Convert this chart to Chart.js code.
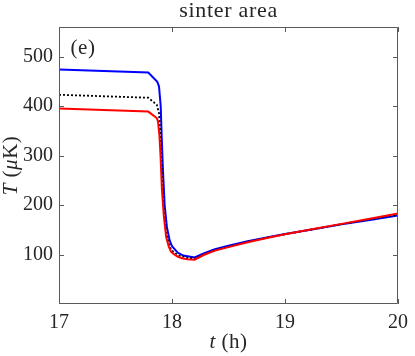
<!DOCTYPE html>
<html>
<head>
<meta charset="utf-8">
<script src="https://cdn.jsdelivr.net/npm/chart.js@4"></script>
<style>
  html, body { margin: 0; padding: 0; background: #fff; }
  #wrap { width: 415px; height: 356px; }
</style>
</head>
<body>
<div id="wrap"><canvas id="chart" width="415" height="356"></canvas></div>
<script>
// values (t in hours, T in microkelvin)
const tBlue = [17.0, 17.79, 17.87, 17.885, 17.9, 17.91, 17.92, 17.935, 17.955, 17.98, 18.0, 18.05, 18.1, 18.2, 18.28, 18.38, 18.5, 18.67, 18.85, 19.0, 19.25, 19.5, 19.75, 20.0];
const TBlue = [474, 468, 449, 440, 400, 330, 270, 200, 155, 128, 117, 104, 98, 94, 102, 111, 118, 127, 135, 141.5, 151, 161, 170, 179];

const tBlack = [17.0, 17.79, 17.865, 17.885, 17.9, 17.915, 17.93, 17.95, 17.99, 18.05, 18.14, 18.2, 18.28, 18.38, 18.5, 18.67, 18.85, 19.0, 19.25, 19.5, 19.75, 20.0];
const TBlack = [423, 417, 403, 386, 330, 240, 185, 142, 110, 99, 93, 91.5, 100, 109, 116, 126, 134.5, 141, 151, 161.5, 171, 181];

const tRed = [17.0, 17.79, 17.865, 17.876, 17.889, 17.899, 17.911, 17.928, 17.948, 17.97, 17.991, 18.02, 18.049, 18.09, 18.136, 18.2, 18.28, 18.38, 18.5, 18.67, 18.85, 19.0, 19.25, 19.5, 19.75, 20.0];
const TRed = [395, 389, 376, 369, 340, 298, 231, 177, 136, 117, 106, 100, 96, 92.5, 90.5, 89.5, 99, 108, 115, 125, 134, 141, 151.5, 162, 172.5, 183];

const xTicks = [17, 18, 19, 20];
const yTicks = [100, 200, 300, 400, 500];

const serif = "'Liberation Serif', 'Times New Roman', serif";
const inkColor = '#262626';
const frameColor = '#5a5a5a';

function pairs(ts, vs) {
  return ts.map((t, i) => ({ x: t, y: vs[i] }));
}

// draws a line of text made of pieces with their own font style
function drawPieces(ctx, pieces, cx, cy, spacing) {
  ctx.letterSpacing = (spacing || 0) + 'px';
  let total = 0;
  pieces.forEach(p => { ctx.font = p.font; p.w = ctx.measureText(p.text).width; total += p.w; });
  let x = cx - total / 2;
  ctx.textAlign = 'left';
  ctx.textBaseline = 'alphabetic';
  pieces.forEach(p => { ctx.font = p.font; ctx.fillText(p.text, x, cy); x += p.w; });
  ctx.letterSpacing = '0px';
}

// box around the plot with inward ticks on all four sides
const framePlugin = {
  id: 'frame',
  afterDatasetsDraw(chart) {
    const { ctx, chartArea: a, scales } = chart;
    const len = 5;
    ctx.save();
    ctx.strokeStyle = frameColor;
    ctx.lineWidth = 1;
    ctx.beginPath();
    ctx.rect(a.left + 0.5, a.top + 0.5, a.right - a.left - 1, a.bottom - a.top - 1);
    xTicks.forEach(v => {
      const px = Math.round(scales.x.getPixelForValue(v)) + 0.5;
      ctx.moveTo(px, a.bottom); ctx.lineTo(px, a.bottom - len);
      ctx.moveTo(px, a.top); ctx.lineTo(px, a.top + len);
    });
    yTicks.forEach(v => {
      const py = Math.round(scales.y.getPixelForValue(v)) + 0.5;
      ctx.moveTo(a.left, py); ctx.lineTo(a.left + len, py);
      ctx.moveTo(a.right, py); ctx.lineTo(a.right - len, py);
    });
    ctx.stroke();
    ctx.restore();
  }
};

// title, panel letter and axis titles
const textPlugin = {
  id: 'texts',
  afterDraw(chart) {
    const { ctx, chartArea: a } = chart;
    const midX = (a.left + a.right) / 2;
    const midY = (a.top + a.bottom) / 2;
    ctx.save();
    ctx.fillStyle = inkColor;

    drawPieces(ctx, [{ text: 'sinter area', font: '22px ' + serif }], midX, 17, 0.7);
    drawPieces(ctx, [{ text: '(e)', font: '21px ' + serif }], a.left + 24, a.top + 27, 0.5);

    drawPieces(ctx, [
      { text: 't', font: 'italic 21px ' + serif },
      { text: ' (h)', font: '21px ' + serif }
    ], midX, 348, 0.5);

    ctx.translate(17, midY);
    ctx.rotate(-Math.PI / 2);
    drawPieces(ctx, [
      { text: 'T', font: 'italic 21px ' + serif },
      { text: ' (', font: '21px ' + serif },
      { text: 'μ', font: 'italic 21px ' + serif },
      { text: 'K)', font: '21px ' + serif }
    ], 0, 0, 0.5);
    ctx.restore();
  }
};

new Chart(document.getElementById('chart'), {
  type: 'line',
  data: {
    datasets: [
      {
        label: 'red',
        data: pairs(tRed, TRed),
        borderColor: '#ff0000',
        borderWidth: 2,
        pointRadius: 0,
        tension: 0,
        order: 0
      },
      {
        label: 'black',
        data: pairs(tBlack, TBlack),
        borderColor: '#000000',
        borderWidth: 1.8,
        borderDash: [2, 2],
        pointRadius: 0,
        tension: 0,
        order: 1
      },
      {
        label: 'blue',
        data: pairs(tBlue, TBlue),
        borderColor: '#0000ff',
        borderWidth: 2,
        pointRadius: 0,
        tension: 0,
        order: 2
      }
    ]
  },
  options: {
    responsive: false,
    animation: false,
    layout: { padding: { top: 27, right: 10, left: 0, bottom: 0 } },
    plugins: {
      legend: { display: false },
      tooltip: { enabled: false },
      title: { display: false }
    },
    scales: {
      x: {
        type: 'linear',
        min: 17,
        max: 20,
        afterBuildTicks: s => { s.ticks = xTicks.map(v => ({ value: v })); },
        afterFit: s => { s.height = 52; },
        grid: { display: false, drawTicks: false },
        border: { display: false },
        ticks: {
          color: inkColor,
          padding: 7,
          font: { family: serif, size: 20 },
          maxRotation: 0
        }
      },
      y: {
        type: 'linear',
        min: 0,
        max: 560,
        afterBuildTicks: s => { s.ticks = yTicks.map(v => ({ value: v })); },
        afterFit: s => { s.width = 59; },
        grid: { display: false, drawTicks: false },
        border: { display: false },
        ticks: {
          color: inkColor,
          padding: 6,
          font: { family: serif, size: 20 }
        }
      }
    }
  },
  plugins: [framePlugin, textPlugin]
});
</script>
</body>
</html>
